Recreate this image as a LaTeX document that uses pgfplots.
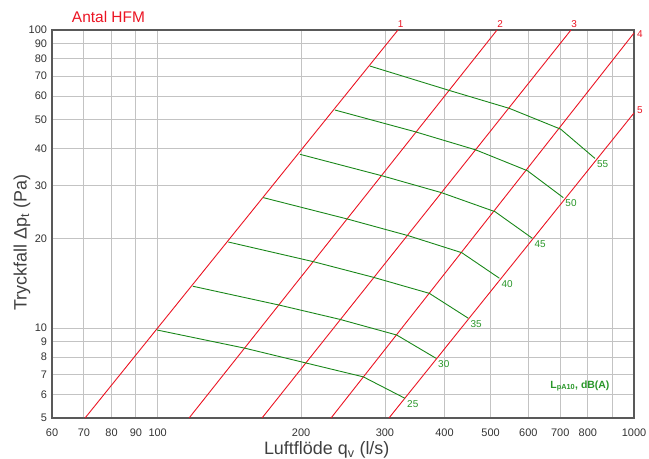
\documentclass[border=0pt]{standalone}
\usepackage{fontspec}
\setmainfont{Liberation Sans}
\usepackage{pgfplots}
\pgfplotsset{compat=1.18}
\definecolor{hfmred}{RGB}{235,20,35}
\definecolor{hfmgreen}{RGB}{25,135,25}
\definecolor{txtgreen}{RGB}{40,150,40}
\definecolor{gridgray}{RGB}{195,195,195}
\begin{document}
\begin{tikzpicture}
\begin{axis}[
    scale only axis,
    width=582bp, height=388bp,
    xmode=log, ymode=log,
    xmin=60, xmax=1000, ymin=5, ymax=100,
    xtick={60,70,80,90,100,200,300,400,500,600,700,800,900,1000},
    xticklabels={60,70,80,90,100,200,300,400,500,600,700,800,,1000},
    ytick={5,6,7,8,9,10,20,30,40,50,60,70,80,90,100},
    yticklabels={5,6,7,8,9,10,20,30,40,50,60,70,80,90,100},
    minor xtick={}, minor ytick={},
    major tick length=0pt,
    grid=major,
    major grid style={gridgray, line width=0.9pt},
    axis line style={black!65, line width=1.3pt},
    tick label style={font=\fontsize{11}{13}\selectfont, text=black!80},
    xticklabel style={yshift=-7bp},
    yticklabel style={xshift=-1.5bp},
    clip=false,
]

% pressure lines (Antal HFM 1..5)
\addplot[hfmred, line width=0.9pt] coordinates {(70.4,5) (319.5,100)};
\addplot[hfmred, line width=0.9pt] coordinates {(116.4,5) (515.8,100)};
\addplot[hfmred, line width=0.9pt] coordinates {(165.6,5) (737.4,100)};
\addplot[hfmred, line width=0.9pt] coordinates {(231.2,5) (1000,97.7)};
\addplot[hfmred, line width=0.9pt] coordinates {(305.9,5) (1000,52.7)};

% sound level lines LpA10
\addplot[hfmgreen, line width=0.9pt] coordinates {(99.8,9.86) (152.5,8.57) (203.9,7.66) (270.2,6.87) (330.6,5.82)};
\addplot[hfmgreen, line width=0.9pt] coordinates {(118.5,13.83) (179.8,11.96) (240.6,10.72) (317.5,9.49) (384.1,7.93)};
\addplot[hfmgreen, line width=0.9pt] coordinates {(140.7,19.46) (212.2,16.72) (283.6,14.82) (371.8,13.09) (448.9,10.80)};
\addplot[hfmgreen, line width=0.9pt] coordinates {(166.6,27.41) (250.1,23.24) (335.9,20.43) (434.9,17.92) (521.7,14.71)};
\addplot[hfmgreen, line width=0.9pt] coordinates {(199.0,38.3) (296.8,32.4) (394.7,28.47) (510.8,24.59) (611.7,20.03)};
\addplot[hfmgreen, line width=0.9pt] coordinates {(235.7,53.9) (346.9,45.6) (466.0,39.6) (597.1,33.75) (710.5,27.41)};
\addplot[hfmgreen, line width=0.9pt] coordinates {(279.1,75.7) (410.9,62.6) (547.4,54.6) (701.6,46.5) (828.1,37.1)};

% labels of the green lines
\begin{scope}[every node/.style={font=\fontsize{10}{12}\selectfont, text=txtgreen, anchor=north west, inner sep=2bp}]
\node at (axis cs:330.6,5.82) {25};
\node at (axis cs:384.1,7.93) {30};
\node at (axis cs:448.9,10.80) {35};
\node at (axis cs:521.7,14.71) {40};
\node at (axis cs:611.7,20.03) {45};
\node at (axis cs:710.5,27.41) {50};
\node at (axis cs:828.1,37.1) {55};
\end{scope}

% labels of the red lines
\begin{scope}[every node/.style={font=\fontsize{10}{12}\selectfont, text=hfmred, inner sep=0pt}]
\node[anchor=base] at ([yshift=2bp]rel axis cs:0.599,1) {1};
\node[anchor=base] at ([yshift=2bp]rel axis cs:0.770,1) {2};
\node[anchor=base] at ([yshift=2bp]rel axis cs:0.897,1) {3};
\node[anchor=base west] at ([xshift=3bp]rel axis cs:1,0.981) {4};
\node[anchor=base west] at ([xshift=3bp]rel axis cs:1,0.785) {5};
\end{scope}

\node[anchor=base west, inner sep=0pt, text=txtgreen, font=\fontsize{10.5}{12}\selectfont\bfseries]
    at (rel axis cs:0.856,0.0765) {L\textsubscript{pA10}, dB(A)};

% title and axis labels
\node[anchor=base, inner sep=0pt, text=hfmred, font=\fontsize{15.5}{18}\selectfont]
    at ([yshift=7.3bp]rel axis cs:0.097,1) {Antal HFM};
\node[anchor=base, inner sep=0pt, text=black!75, font=\fontsize{18}{21}\selectfont]
    at ([yshift=-37bp]rel axis cs:0.472,0) {Luftflöde q\textsubscript{v} (l/s)};
\node[anchor=center, rotate=90, inner sep=0pt, text=black!75, font=\fontsize{18}{21}\selectfont]
    at ([xshift=-30bp]rel axis cs:0,0.452) {Tryckfall Δp\textsubscript{t} (Pa)};

\coordinate (sw) at (rel axis cs:0,0);
\coordinate (ne) at (rel axis cs:1,1);
\end{axis}
\pgfresetboundingbox
\path[use as bounding box] ([xshift=-52bp,yshift=-41bp]sw) rectangle ([xshift=15bp,yshift=30bp]ne);
\end{tikzpicture}
\end{document}
